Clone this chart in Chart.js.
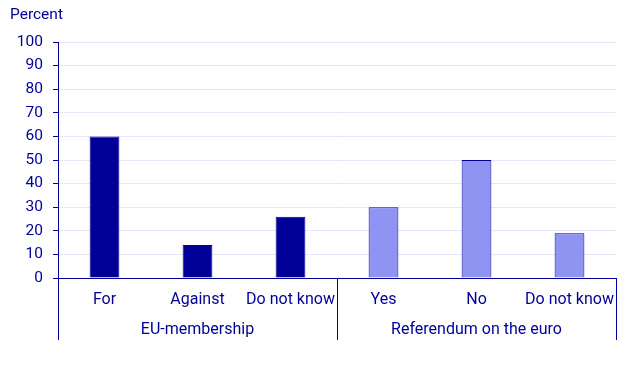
<!DOCTYPE html>
<html>
<head>
<meta charset="utf-8">
<script src="https://cdn.jsdelivr.net/npm/chart.js@4"></script>
<style>
html,body{margin:0;padding:0;background:#fff;}
#wrap{width:643px;height:386px;position:relative;}
</style>
</head>
<body>
<div id="wrap"><canvas id="c" width="643" height="386"></canvas></div>
<script>
const categories = ["For", "Against", "Do not know", "Yes", "No", "Do not know"];
const values = [60, 14, 26, 30, 50, 19];
const groups = ["EU-membership", "Referendum on the euro"];
const groupSizes = [3, 3];
const yTicks = [0, 10, 20, 30, 40, 50, 60, 70, 80, 90, 100];
const yTitle = "Percent";

const DARK = "#000099";
const LIGHT = "#8f93f2";
const FONT = "Roboto, 'Liberation Sans', sans-serif";

const barColors = [];
const borderColors = [];
groupSizes.forEach((n, gi) => {
  for (let i = 0; i < n; i++) {
    barColors.push(gi === 0 ? DARK : LIGHT);
    borderColors.push(DARK);
  }
});

const groupPlugin = {
  id: 'groups',
  afterDraw(chart) {
    const ctx = chart.ctx;
    const x = chart.scales.x;
    const area = chart.chartArea;
    ctx.save();
    ctx.strokeStyle = DARK;
    ctx.lineWidth = 1;
    let start = 0;
    const bounds = [x.getPixelForValue(-0.5)];
    groupSizes.forEach(n => { start += n; bounds.push(x.getPixelForValue(start - 0.5)); });
    bounds.forEach(px => {
      const p = Math.round(px) + 0.5;
      ctx.beginPath();
      ctx.moveTo(p, area.bottom);
      ctx.lineTo(p, area.bottom + 62);
      ctx.stroke();
    });
    ctx.fillStyle = DARK;
    ctx.font = "16px " + FONT;
    ctx.textAlign = 'center';
    ctx.textBaseline = 'middle';
    groups.forEach((g, i) => {
      ctx.fillText(g, (bounds[i] + bounds[i + 1]) / 2, area.bottom + 51.5);
    });
    ctx.font = "15.5px " + FONT;
    ctx.textAlign = 'left';
    ctx.fillText(yTitle, 10, 15.5);
    ctx.restore();
  }
};

new Chart(document.getElementById('c'), {
  type: 'bar',
  data: {
    labels: categories,
    datasets: [{
      data: values,
      backgroundColor: barColors,
      borderColor: borderColors,
      borderWidth: 1,
      categoryPercentage: 1,
      barPercentage: 0.32
    }]
  },
  options: {
    responsive: false,
    animation: false,
    devicePixelRatio: 1,
    layout: { padding: { top: 42, right: 27, bottom: 0, left: 0 } },
    plugins: { legend: { display: false }, tooltip: { enabled: false } },
    scales: {
      x: {
        grid: { display: false, drawTicks: false },
        border: { display: true, color: DARK, width: 1 },
        ticks: { color: DARK, font: { size: 16, family: FONT }, padding: 12, maxRotation: 0, autoSkip: false },
        afterFit(s) { s.height = 108; }
      },
      y: {
        min: 0, max: 100,
        afterBuildTicks(s) { s.ticks = yTicks.map(v => ({ value: v })); },
        grid: { color: '#e6e6f7', tickColor: DARK, tickLength: 5, lineWidth: 1 },
        border: { display: true, color: DARK, width: 1 },
        ticks: { color: DARK, font: { size: 15.5, family: FONT }, padding: 10 },
        afterFit(s) { s.width = 58; }
      }
    }
  },
  plugins: [groupPlugin]
});
</script>
</body>
</html>
